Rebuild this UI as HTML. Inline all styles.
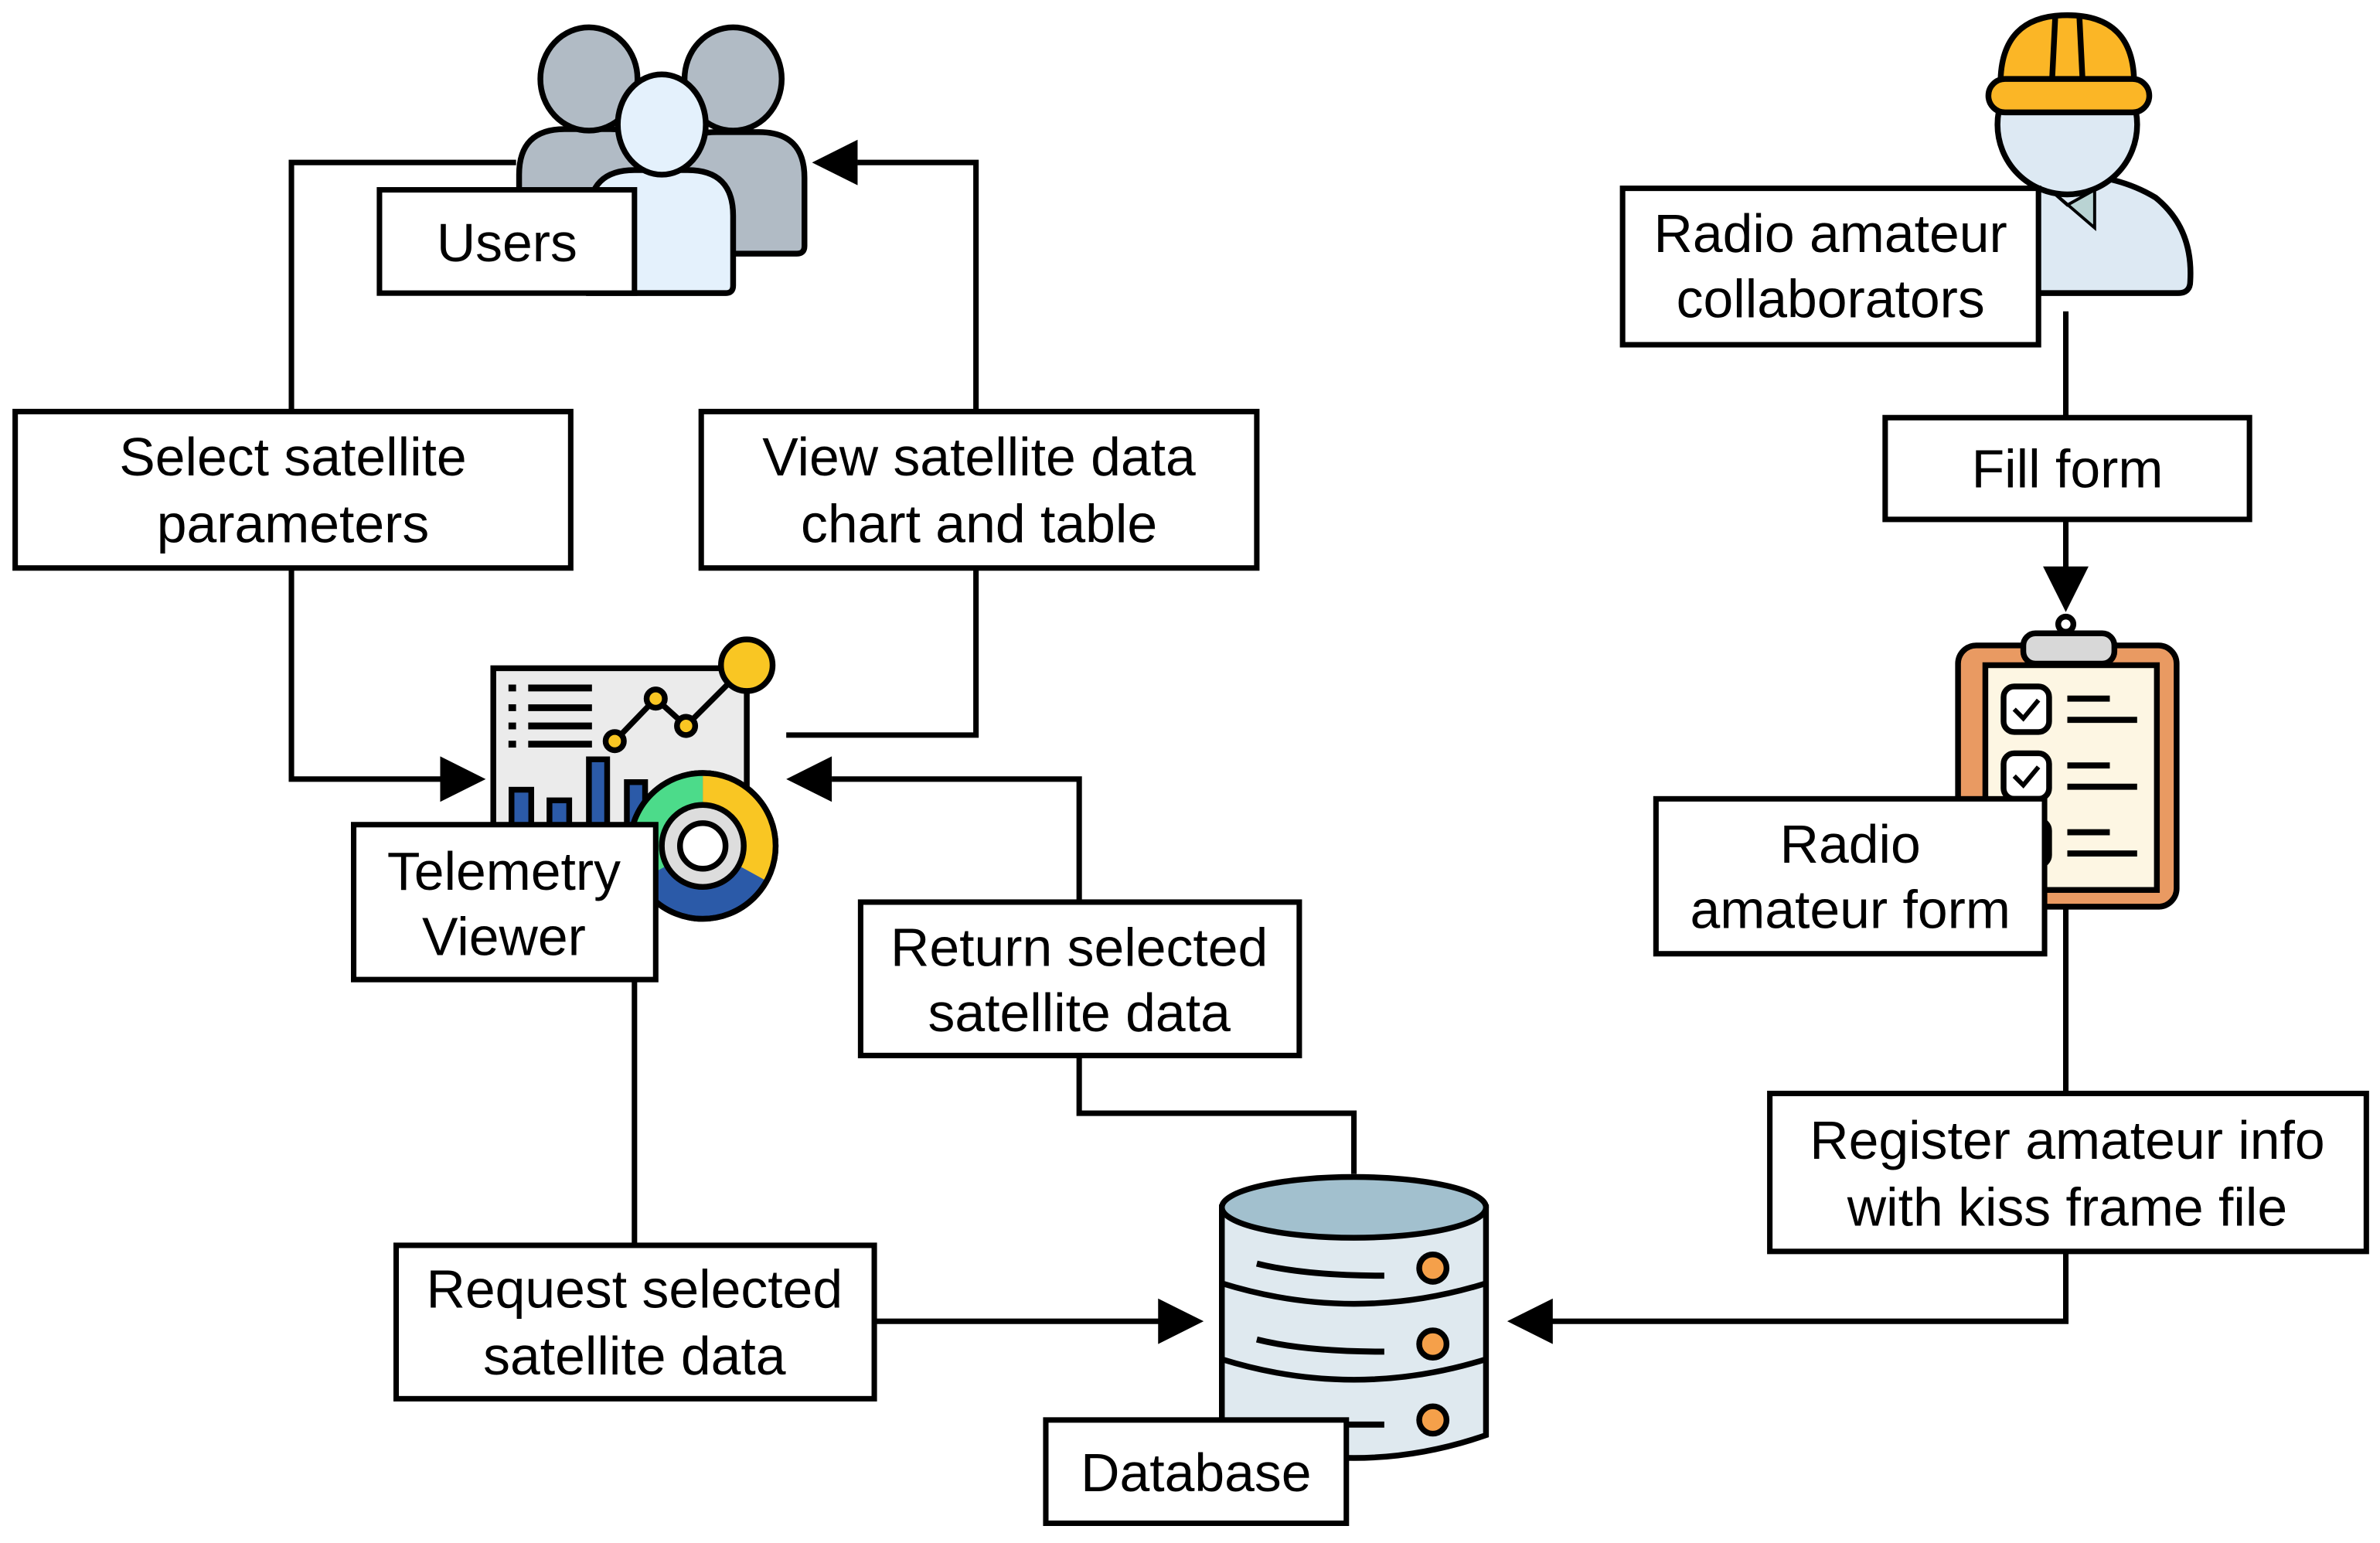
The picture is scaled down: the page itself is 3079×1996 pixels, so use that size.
<!DOCTYPE html>
<html><head><meta charset="utf-8"><style>
html,body{margin:0;padding:0;background:#fff;}
svg{display:block;}
text{font-family:"Liberation Sans",Arial,sans-serif;font-size:35.5px;fill:#000;text-anchor:middle;}
</style></head><body>
<svg width="3079" height="1996" viewBox="0 0 1568 1016" preserveAspectRatio="none" xmlns="http://www.w3.org/2000/svg">
<g fill="none" stroke="#000" stroke-width="3.6">
<polyline points="340,107 192,107 192,271"/>
<polyline points="192,374 192,513 292,513"/>
<path d="M320,513 L290,498 L290,528z" fill="#000" stroke="none"/>
<polyline points="643,271 643,107 565,107"/>
<path d="M535,107 L565,92 L565,122z" fill="#000" stroke="none"/>
<polyline points="643,374 643,484 518,484"/>
<polyline points="711,594 711,513 548,513"/>
<path d="M518,513 L548,498 L548,528z" fill="#000" stroke="none"/>
<polyline points="711,695 711,733 892,733 892,773"/>
<line x1="418" y1="645" x2="418" y2="820"/>
<line x1="576" y1="870" x2="765" y2="870"/>
<path d="M793,870 L763,855 L763,885z" fill="#000" stroke="none"/>
<line x1="1361" y1="205" x2="1361" y2="275"/>
<line x1="1361" y1="342" x2="1361" y2="375"/>
<path d="M1361,403 L1346,373 L1376,373z" fill="#000" stroke="none"/>
<line x1="1361" y1="598" x2="1361" y2="720"/>
<polyline points="1361,824 1361,870 1022,870"/>
<path d="M993,870 L1023,855 L1023,885z" fill="#000" stroke="none"/>
</g>

<!-- Users icon -->
<g stroke="#000" stroke-width="3.8">
<path d="M342,165 L342,115 Q342,85 372,85 L402,85 Q432,85 432,115 L432,165 Z" fill="#b1bbc5"/>
<ellipse cx="388" cy="52" rx="32" ry="34" fill="#b1bbc5"/>
<path d="M442,167 L442,117 Q442,87 472,87 L500,87 Q530,87 530,117 L530,162 Q530,167 525,167 Z" fill="#b1bbc5"/>
<ellipse cx="483" cy="52" rx="32" ry="34" fill="#b1bbc5"/>
<path d="M388,193 L388,142 Q388,112 418,112 L453,112 Q483,112 483,142 L483,188 Q483,193 478,193 Z" fill="#e4f1fc"/>
<ellipse cx="436" cy="82" rx="29" ry="33" fill="#e4f1fc"/>
</g>

<!-- Telemetry icon -->
<g stroke="#000" stroke-width="3.8">
<rect x="325" y="440" width="167" height="108" fill="#ebebeb"/>
<g stroke-width="4.5">
<line x1="348" y1="453" x2="390" y2="453"/><line x1="348" y1="466" x2="390" y2="466"/><line x1="348" y1="478" x2="390" y2="478"/><line x1="348" y1="490" x2="390" y2="490"/>
<line x1="335" y1="453" x2="340" y2="453"/><line x1="335" y1="466" x2="340" y2="466"/><line x1="335" y1="478" x2="340" y2="478"/><line x1="335" y1="490" x2="340" y2="490"/>
</g>
<polyline points="405,488 432,460 452,478 484,446" fill="none"/>
<circle cx="405" cy="488" r="6" fill="#f9c623"/><circle cx="432" cy="460" r="6" fill="#f9c623"/><circle cx="452" cy="478" r="6" fill="#f9c623"/>
<circle cx="492" cy="438" r="17" fill="#f9c623"/>
<rect x="337" y="520" width="13" height="30" fill="#2b5aa8"/>
<rect x="362" y="527" width="13" height="23" fill="#2b5aa8"/>
<rect x="388" y="500" width="12" height="50" fill="#2b5aa8"/>
<rect x="413" y="515" width="12" height="35" fill="#2b5aa8"/>
<circle cx="463" cy="557" r="48" fill="#2b5aa8"/>
<path d="M463,557 L463,509 A48,48 0 0 1 505,580 Z" fill="#f9c623" stroke="none"/>
<path d="M463,557 L463,509 A48,48 0 0 0 421,580 Z" fill="#4cdb8a" stroke="none"/>
<circle cx="463" cy="557" r="48" fill="none"/>
<circle cx="463" cy="557" r="27" fill="#ddd"/>
<circle cx="463" cy="557" r="15" fill="#fff"/>
</g>

<!-- Database icon -->
<g stroke="#000" stroke-width="3.8">
<path d="M805,795 L805,945 Q892,975 979,945 L979,795 Z" fill="#dfe9ef"/>
<ellipse cx="892" cy="795" rx="87" ry="20" fill="#a2c0ce"/>
<path d="M805,845 Q892,872 979,845" fill="none"/>
<path d="M805,895 Q892,922 979,895" fill="none"/>
<path d="M828,832 Q860,840 912,840" fill="none" stroke-width="4"/>
<path d="M828,882 Q860,890 912,890" fill="none" stroke-width="4"/>
<path d="M880,938 L912,938" fill="none" stroke-width="4"/>
<circle cx="944" cy="835" r="9" fill="#f5a04a"/>
<circle cx="944" cy="885" r="9" fill="#f5a04a"/>
<circle cx="944" cy="935" r="9" fill="#f5a04a"/>
</g>

<!-- Worker icon -->
<g stroke="#000" stroke-width="3.8">
<path d="M1322,193 L1322,160 Q1340,115 1362,115 Q1395,115 1420,130 Q1445,150 1443,185 Q1443,193 1435,193 Z" fill="#dde9f3"/>
<path d="M1345,120 L1362,135 L1380,125 L1380,150 Z" fill="#b9d3d3" stroke-width="2"/>
<circle cx="1362" cy="82" r="46" fill="#dde9f3"/>
<path d="M1318,55 Q1318,10 1362,10 Q1406,10 1406,55 Z" fill="#fbb626"/>
<rect x="1310" y="52" width="106" height="22" rx="11" fill="#fbb626"/>
<line x1="1354" y1="12" x2="1352" y2="52"/><line x1="1370" y1="12" x2="1372" y2="52"/>
</g>

<!-- Clipboard icon -->
<g stroke="#000" stroke-width="3.8">
<rect x="1290" y="425" width="144" height="172" rx="12" fill="#e99a62"/>
<rect x="1308" y="438" width="113" height="148" fill="#fdf6e3"/>
<rect x="1333" y="417" width="60" height="20" rx="8" fill="#d8d8d8"/>
<circle cx="1361" cy="411" r="5" fill="#fff"/>
<rect x="1320" y="452" width="30" height="30" rx="7" fill="#fff"/>
<rect x="1320" y="496" width="30" height="30" rx="7" fill="#fff"/>
<rect x="1320" y="540" width="30" height="30" rx="7" fill="#fff"/>
<polyline points="1327,467 1333,473 1343,461" fill="none" stroke-width="3"/>
<polyline points="1327,511 1333,517 1343,505" fill="none" stroke-width="3"/>
<g stroke-width="4"><line x1="1362" y1="460" x2="1390" y2="460"/><line x1="1362" y1="474" x2="1408" y2="474"/><line x1="1362" y1="504" x2="1390" y2="504"/><line x1="1362" y1="518" x2="1408" y2="518"/><line x1="1362" y1="548" x2="1390" y2="548"/><line x1="1362" y1="562" x2="1408" y2="562"/></g>
</g>

<g fill="#fff" stroke="#000" stroke-width="3.6">
<rect x="250" y="125" width="168" height="68"/>
<rect x="10" y="271" width="366" height="103"/>
<rect x="462" y="271" width="366" height="103"/>
<rect x="233" y="543" width="199" height="102"/>
<rect x="567" y="594" width="289" height="101"/>
<rect x="261" y="820" width="315" height="101"/>
<rect x="689" y="935" width="198" height="68"/>
<rect x="1069" y="124" width="274" height="103"/>
<rect x="1242" y="275" width="240" height="67"/>
<rect x="1091" y="526" width="256" height="102"/>
<rect x="1166" y="720" width="393" height="104"/>
</g>
<text x="334" y="172">Users</text>
<text x="193" y="313">Select satellite</text><text x="193" y="357">parameters</text>
<text x="645" y="313">View satellite data</text><text x="645" y="357">chart and table</text>
<text x="332" y="586">Telemetry</text><text x="332" y="629">Viewer</text>
<text x="711" y="636">Return selected</text><text x="711" y="679">satellite data</text>
<text x="418" y="861">Request selected</text><text x="418" y="905">satellite data</text>
<text x="788" y="982">Database</text>
<text x="1206" y="166">Radio amateur</text><text x="1206" y="209">collaborators</text>
<text x="1362" y="321">Fill form</text>
<text x="1219" y="568">Radio</text><text x="1219" y="611">amateur form</text>
<text x="1362" y="763">Register amateur info</text><text x="1362" y="807">with kiss frame file</text>
</svg>
</body></html>
